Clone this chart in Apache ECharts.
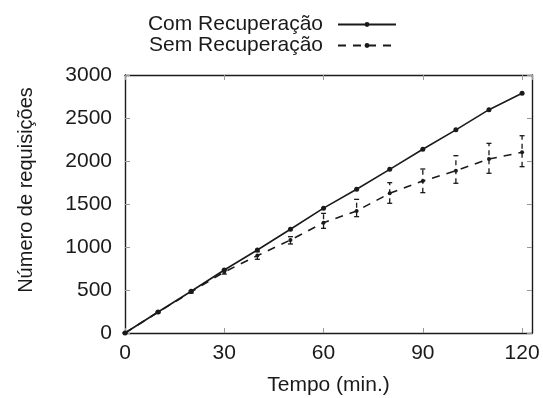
<!DOCTYPE html>
<html>
<head>
<meta charset="utf-8">
<script src="https://cdn.jsdelivr.net/npm/echarts@6/dist/echarts.min.js"></script>
<style>
  html, body { margin: 0; padding: 0; background: #fff; }
  #chart { width: 543px; height: 398px; }
</style>
</head>
<body>
<div id="chart"></div>
<script>
const FONT = 'Liberation Sans';
const INK = '#1a1a1a';

const times = [0, 10, 20, 30, 40, 50, 60, 70, 80, 90, 100, 110, 120];
const comRecuperacao = [0, 244, 485, 733, 965, 1206, 1452, 1672, 1903, 2136, 2362, 2597, 2787];
const semRecuperacao = [0, 242, 478, 710, 900, 1081, 1283, 1420, 1624, 1767, 1887, 2023, 2101];
const semLower = [0, 235, 465, 685, 857, 1035, 1217, 1353, 1508, 1632, 1741, 1857, 1934];
const semUpper = [0, 250, 492, 735, 945, 1120, 1391, 1554, 1748, 1907, 2062, 2205, 2294];
const xTicks = [0, 30, 60, 90, 120];

const comData = times.map((t, i) => [t, comRecuperacao[i]]);
const semData = times.map((t, i) => [t, semRecuperacao[i]]);
const errData = times.map((t, i) => [t, semLower[i], semUpper[i]]);

function renderErrorBar(params, api) {
  const x = api.value(0);
  const lo = api.coord([x, api.value(1)]);
  const hi = api.coord([x, api.value(2)]);
  const cap = 2.5;
  const style = { stroke: INK, lineWidth: 1.3 };
  return {
    type: 'group',
    children: [
      { type: 'line', shape: { x1: lo[0], y1: lo[1], x2: hi[0], y2: hi[1] },
        style: Object.assign({ lineDash: [5, 4] }, style) },
      { type: 'line', shape: { x1: lo[0] - cap, y1: lo[1], x2: lo[0] + cap, y2: lo[1] }, style },
      { type: 'line', shape: { x1: hi[0] - cap, y1: hi[1], x2: hi[0] + cap, y2: hi[1] }, style },
    ],
  };
}

const axisLine = { show: true, onZero: false, lineStyle: { color: INK, width: 1.4 } };
const innerTick = { show: true, inside: true, length: 5, lineStyle: { color: '#999', width: 1 } };

const chart = echarts.init(document.getElementById('chart'));
chart.setOption({
  animation: false,
  backgroundColor: '#fff',
  textStyle: { fontFamily: FONT },
  grid: { left: 125, right: 11, top: 75, bottom: 65, outerBoundsMode: 'none' },
  legend: {
    orient: 'vertical',
    align: 'right',
    right: 141,
    top: 9,
    itemWidth: 58,
    itemHeight: 6,
    itemGap: 0,
    textStyle: { fontFamily: FONT, fontSize: 21, lineHeight: 21, color: INK, padding: [0, 10, 0, 0] },
    data: ['Com Recuperação', 'Sem Recuperação'],
  },
  xAxis: [
    {
      type: 'value',
      min: 0,
      max: 123,
      interval: 30,
      name: 'Tempo (min.)',
      nameLocation: 'middle',
      nameGap: 42,
      nameTextStyle: { fontFamily: FONT, fontSize: 21, color: INK },
      axisLine,
      axisTick: innerTick,
      splitLine: { show: false },
      axisLabel: {
        fontFamily: FONT, fontSize: 21, color: INK, margin: 10,
        showMaxLabel: false,
        formatter: (v) => (xTicks.includes(v) ? String(v) : ''),
      },
    },
    {
      type: 'value', position: 'top', min: 0, max: 123, interval: 30,
      axisLine, axisTick: innerTick, axisLabel: { show: false }, splitLine: { show: false },
    },
  ],
  yAxis: [
    {
      type: 'value',
      min: 0,
      max: 3000,
      interval: 500,
      name: 'Número de requisições',
      nameLocation: 'middle',
      nameGap: 89,
      nameTextStyle: { fontFamily: FONT, fontSize: 20, color: INK, padding: [0, 0, 0, 28] },
      axisLine,
      axisTick: innerTick,
      splitLine: { show: false },
      axisLabel: { fontFamily: FONT, fontSize: 21, color: INK, margin: 13, formatter: (v) => String(v) },
    },
    {
      type: 'value', position: 'right', min: 0, max: 3000, interval: 500,
      axisLine, axisTick: innerTick, axisLabel: { show: false }, splitLine: { show: false },
    },
  ],
  series: [
    {
      name: 'Com Recuperação',
      type: 'line',
      data: comData,
      symbol: 'circle',
      symbolSize: 5,
      itemStyle: { color: INK },
      lineStyle: { color: INK, width: 1.6 },
      z: 3,
    },
    {
      name: 'Sem Recuperação',
      type: 'line',
      data: semData,
      symbol: 'circle',
      symbolSize: 4,
      itemStyle: { color: INK },
      lineStyle: { color: INK, width: 1.6, type: [8, 7] },
      z: 3,
    },
    {
      name: 'Sem Recuperação',
      type: 'custom',
      data: errData,
      renderItem: renderErrorBar,
      encode: { x: 0, y: [1, 2] },
      z: 2,
    },
  ],
});
</script>
</body>
</html>
